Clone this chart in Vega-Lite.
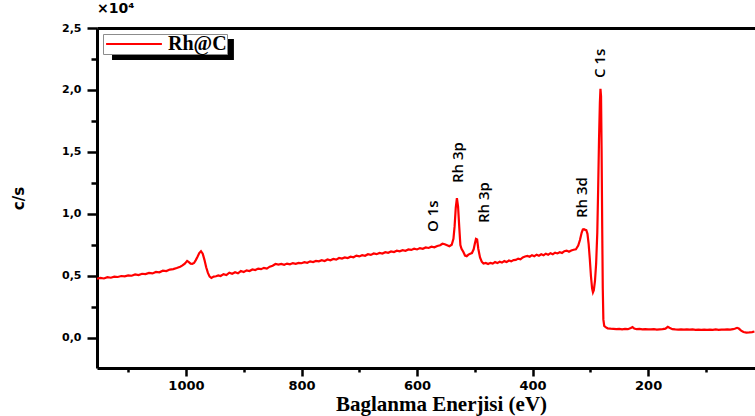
{
  "$schema": "https://vega.github.io/schema/vega-lite/v6.json",
  "width": 658,
  "height": 340,
  "autosize": {"type": "none"},
  "padding": {"left": 97, "top": 28, "right": 0, "bottom": 48},
  "background": "white",
  "title": {"text": "×10⁴", "anchor": "start", "frame": "group", "font": "DejaVu Sans", "fontSize": 14, "fontWeight": "bold", "color": "black", "offset": 6},
  "config": {
    "view": {"stroke": null},
    "axis": {"grid": false, "domainColor": "black", "tickColor": "black", "labelColor": "black", "titleColor": "black", "domainWidth": 3, "tickWidth": 2.5}
  },
  "datasets": {
    "spectrum": [
      {"e":1154,"c":0.478},{"e":1148,"c":0.485},{"e":1142,"c":0.480},{"e":1136,"c":0.490},{"e":1130,"c":0.486},
      {"e":1124,"c":0.495},{"e":1118,"c":0.492},{"e":1112,"c":0.500},{"e":1106,"c":0.497},{"e":1100,"c":0.505},
      {"e":1094,"c":0.502},{"e":1088,"c":0.512},{"e":1082,"c":0.507},{"e":1076,"c":0.518},{"e":1070,"c":0.515},
      {"e":1064,"c":0.525},{"e":1058,"c":0.521},{"e":1052,"c":0.533},{"e":1046,"c":0.530},{"e":1040,"c":0.543},
      {"e":1034,"c":0.540},{"e":1028,"c":0.552},{"e":1022,"c":0.556},{"e":1016,"c":0.565},{"e":1010,"c":0.575},
      {"e":1006,"c":0.585},{"e":1002,"c":0.600},{"e":998,"c":0.622},{"e":995,"c":0.612},{"e":992,"c":0.600},
      {"e":989,"c":0.598},{"e":986,"c":0.605},{"e":983,"c":0.628},{"e":980,"c":0.655},{"e":977,"c":0.685},
      {"e":974,"c":0.700},{"e":971,"c":0.680},{"e":968,"c":0.630},{"e":965,"c":0.570},{"e":962,"c":0.525},
      {"e":959,"c":0.495},{"e":956,"c":0.485},{"e":952,"c":0.495},{"e":948,"c":0.498},{"e":944,"c":0.505},
      {"e":940,"c":0.500},{"e":935,"c":0.515},{"e":930,"c":0.508},{"e":925,"c":0.527},{"e":920,"c":0.518},
      {"e":915,"c":0.530},{"e":910,"c":0.522},{"e":905,"c":0.540},{"e":900,"c":0.532},{"e":895,"c":0.545},
      {"e":890,"c":0.540},{"e":885,"c":0.553},{"e":880,"c":0.548},{"e":875,"c":0.560},{"e":870,"c":0.555},
      {"e":865,"c":0.566},{"e":860,"c":0.560},{"e":855,"c":0.575},{"e":850,"c":0.583},{"e":845,"c":0.597},
      {"e":840,"c":0.592},{"e":835,"c":0.598},{"e":830,"c":0.590},{"e":825,"c":0.600},{"e":820,"c":0.594},
      {"e":815,"c":0.604},{"e":810,"c":0.598},{"e":805,"c":0.606},{"e":800,"c":0.603},{"e":795,"c":0.612},
      {"e":790,"c":0.607},{"e":785,"c":0.618},{"e":780,"c":0.613},{"e":775,"c":0.622},{"e":770,"c":0.618},
      {"e":765,"c":0.628},{"e":760,"c":0.621},{"e":755,"c":0.633},{"e":750,"c":0.627},{"e":745,"c":0.637},
      {"e":740,"c":0.632},{"e":735,"c":0.645},{"e":730,"c":0.640},{"e":725,"c":0.650},{"e":720,"c":0.645},
      {"e":715,"c":0.656},{"e":710,"c":0.651},{"e":705,"c":0.664},{"e":700,"c":0.658},{"e":695,"c":0.668},
      {"e":690,"c":0.663},{"e":685,"c":0.676},{"e":680,"c":0.670},{"e":675,"c":0.682},{"e":670,"c":0.676},
      {"e":665,"c":0.686},{"e":660,"c":0.681},{"e":655,"c":0.692},{"e":650,"c":0.687},{"e":645,"c":0.698},
      {"e":640,"c":0.693},{"e":635,"c":0.704},{"e":630,"c":0.699},{"e":625,"c":0.708},{"e":620,"c":0.703},
      {"e":615,"c":0.714},{"e":610,"c":0.710},{"e":605,"c":0.720},{"e":600,"c":0.714},{"e":595,"c":0.725},
      {"e":590,"c":0.719},{"e":585,"c":0.730},{"e":580,"c":0.726},{"e":575,"c":0.736},{"e":570,"c":0.731},
      {"e":565,"c":0.742},{"e":560,"c":0.748},{"e":556,"c":0.760},{"e":552,"c":0.756},{"e":548,"c":0.748},
      {"e":544,"c":0.740},{"e":540,"c":0.752},{"e":537,"c":0.800},{"e":535,"c":0.900},{"e":533,"c":1.050},
      {"e":531,"c":1.127},{"e":529,"c":1.060},{"e":527,"c":0.900},{"e":525,"c":0.750},{"e":523,"c":0.720},
      {"e":520,"c":0.695},{"e":517,"c":0.665},{"e":514,"c":0.660},{"e":511,"c":0.672},{"e":508,"c":0.680},
      {"e":505,"c":0.685},{"e":502,"c":0.715},{"e":500,"c":0.760},{"e":498,"c":0.800},{"e":496,"c":0.795},
      {"e":494,"c":0.720},{"e":491,"c":0.650},{"e":488,"c":0.615},{"e":485,"c":0.600},{"e":481,"c":0.605},
      {"e":477,"c":0.596},{"e":473,"c":0.606},{"e":469,"c":0.600},{"e":465,"c":0.612},{"e":461,"c":0.604},
      {"e":457,"c":0.615},{"e":453,"c":0.608},{"e":449,"c":0.620},{"e":445,"c":0.612},{"e":441,"c":0.625},
      {"e":437,"c":0.618},{"e":433,"c":0.628},{"e":429,"c":0.630},{"e":425,"c":0.640},{"e":421,"c":0.635},
      {"e":417,"c":0.650},{"e":413,"c":0.657},{"e":409,"c":0.662},{"e":405,"c":0.655},{"e":401,"c":0.668},
      {"e":397,"c":0.660},{"e":393,"c":0.672},{"e":389,"c":0.664},{"e":385,"c":0.675},{"e":381,"c":0.668},
      {"e":377,"c":0.680},{"e":373,"c":0.672},{"e":369,"c":0.684},{"e":365,"c":0.676},{"e":361,"c":0.688},
      {"e":357,"c":0.682},{"e":353,"c":0.692},{"e":349,"c":0.686},{"e":345,"c":0.700},{"e":341,"c":0.705},
      {"e":337,"c":0.696},{"e":333,"c":0.706},{"e":329,"c":0.712},{"e":325,"c":0.715},{"e":321,"c":0.745},
      {"e":318,"c":0.790},{"e":315,"c":0.850},{"e":313,"c":0.875},{"e":311,"c":0.878},{"e":309,"c":0.872},
      {"e":307,"c":0.870},{"e":305,"c":0.840},{"e":303,"c":0.760},{"e":301,"c":0.640},{"e":299,"c":0.500},
      {"e":297,"c":0.400},{"e":295.5,"c":0.368},{"e":294,"c":0.385},{"e":292,"c":0.460},{"e":290,"c":0.600},
      {"e":288,"c":0.850},{"e":286.5,"c":1.200},{"e":285,"c":1.600},{"e":283.5,"c":1.900},{"e":282.5,"c":2.010},
      {"e":281.5,"c":1.950},{"e":280.5,"c":1.500},{"e":279.5,"c":0.900},{"e":278.5,"c":0.400},{"e":277.5,"c":0.150},
      {"e":276,"c":0.098},{"e":273,"c":0.085},{"e":270,"c":0.078},{"e":265,"c":0.075},{"e":260,"c":0.073},
      {"e":255,"c":0.071},{"e":250,"c":0.074},{"e":245,"c":0.070},{"e":240,"c":0.073},{"e":235,"c":0.071},
      {"e":230,"c":0.080},{"e":227,"c":0.088},{"e":224,"c":0.076},{"e":220,"c":0.071},{"e":215,"c":0.073},
      {"e":210,"c":0.069},{"e":205,"c":0.072},{"e":200,"c":0.070},{"e":195,"c":0.069},{"e":190,"c":0.071},
      {"e":185,"c":0.068},{"e":180,"c":0.070},{"e":175,"c":0.071},{"e":170,"c":0.075},{"e":166,"c":0.090},
      {"e":163,"c":0.082},{"e":158,"c":0.071},{"e":153,"c":0.069},{"e":148,"c":0.068},{"e":143,"c":0.070},
      {"e":138,"c":0.068},{"e":133,"c":0.069},{"e":128,"c":0.067},{"e":123,"c":0.069},{"e":118,"c":0.066},
      {"e":113,"c":0.068},{"e":108,"c":0.066},{"e":103,"c":0.068},{"e":98,"c":0.065},{"e":93,"c":0.068},
      {"e":88,"c":0.066},{"e":83,"c":0.069},{"e":78,"c":0.066},{"e":73,"c":0.068},{"e":68,"c":0.067},
      {"e":63,"c":0.070},{"e":58,"c":0.068},{"e":53,"c":0.071},{"e":49,"c":0.076},{"e":46,"c":0.082},
      {"e":43,"c":0.076},{"e":39,"c":0.060},{"e":35,"c":0.048},{"e":30,"c":0.044},{"e":25,"c":0.045},
      {"e":20,"c":0.047},{"e":16,"c":0.052}
    ],
    "peaks": [
      {"lbl": "O 1s", "e": 573, "c": 0.855},
      {"lbl": "Rh 3p", "e": 529, "c": 1.25},
      {"lbl": "Rh 3p", "e": 484, "c": 0.927},
      {"lbl": "Rh 3d", "e": 314, "c": 0.968},
      {"lbl": "C 1s", "e": 283, "c": 2.097}
    ]
  },
  "resolve": {"axis": {"x": "independent", "y": "independent"}},
  "layer": [
    {
      "data": {"values": [{}]},
      "mark": {"type": "rect", "color": "black"},
      "encoding": {
        "x": {"datum": 1128, "type": "quantitative", "scale": {"domain": [15, 1154], "reverse": true, "nice": false, "zero": false},
              "axis": {"orient": "bottom", "values": [1100, 900, 700, 500, 300, 100], "labels": false, "domain": false, "tickSize": 4, "title": null}},
        "x2": {"datum": 917},
        "y": {"datum": 2.411, "type": "quantitative", "scale": {"domain": [-0.242, 2.5], "nice": false, "zero": false},
              "axis": {"orient": "left", "values": [0.25, 0.75, 1.25, 1.75, 2.25], "labels": false, "domain": false, "tickSize": 6, "title": null}},
        "y2": {"datum": 2.242}
      }
    },
    {
      "data": {"name": "spectrum"},
      "mark": {"type": "line", "strokeWidth": 2.2, "interpolate": "linear"},
      "encoding": {
        "x": {"field": "e", "type": "quantitative",
              "axis": {"orient": "bottom", "values": [1000, 800, 600, 400, 200], "format": "d", "tickSize": 8,
                       "labelFont": "DejaVu Sans", "labelFontWeight": "bold", "labelFontSize": 13, "labelPadding": 3,
                       "title": "Baglanma Enerjisi (eV)", "titleFont": "Liberation Serif", "titleFontWeight": "bold",
                       "titleFontSize": 21, "titlePadding": 1, "titleX": 344}},
        "y": {"field": "c", "type": "quantitative",
              "axis": {"orient": "left", "values": [0, 0.5, 1, 1.5, 2, 2.5], "tickSize": 10,
                       "labelExpr": "replace(format(datum.value, '.1f'), '.', ',')",
                       "labelFont": "DejaVu Sans", "labelFontWeight": "bold", "labelFontSize": 11, "labelPadding": 6,
                       "title": "c/s", "titleFont": "DejaVu Sans", "titleFontWeight": "bold", "titleFontSize": 15, "titlePadding": 35}},
        "color": {"datum": "Rh@C", "type": "nominal", "scale": {"range": ["#ff0000"]},
                  "legend": {"orient": "none", "legendX": 6, "legendY": 6, "title": null,
                             "symbolType": "M-3.1,0H3.1", "symbolSize": 324, "symbolStrokeWidth": 2, "symbolOffset": 21,
                             "labelFont": "Liberation Serif", "labelFontWeight": "bold", "labelFontSize": 20, "labelColor": "black",
                             "labelOffset": 24, "padding": 0, "strokeColor": "#8c8c8c", "fillColor": "white"}}
      }
    },
    {
      "data": {"name": "peaks"},
      "mark": {"type": "text", "angle": 270, "align": "left", "baseline": "middle", "font": "Open Sans", "fontSize": 15, "fontWeight": 600, "color": "black"},
      "encoding": {
        "x": {"field": "e", "type": "quantitative",
              "axis": {"orient": "top", "labels": false, "ticks": false, "domain": true, "title": null}},
        "y": {"field": "c", "type": "quantitative", "axis": null},
        "text": {"field": "lbl"}
      }
    }
  ]
}
